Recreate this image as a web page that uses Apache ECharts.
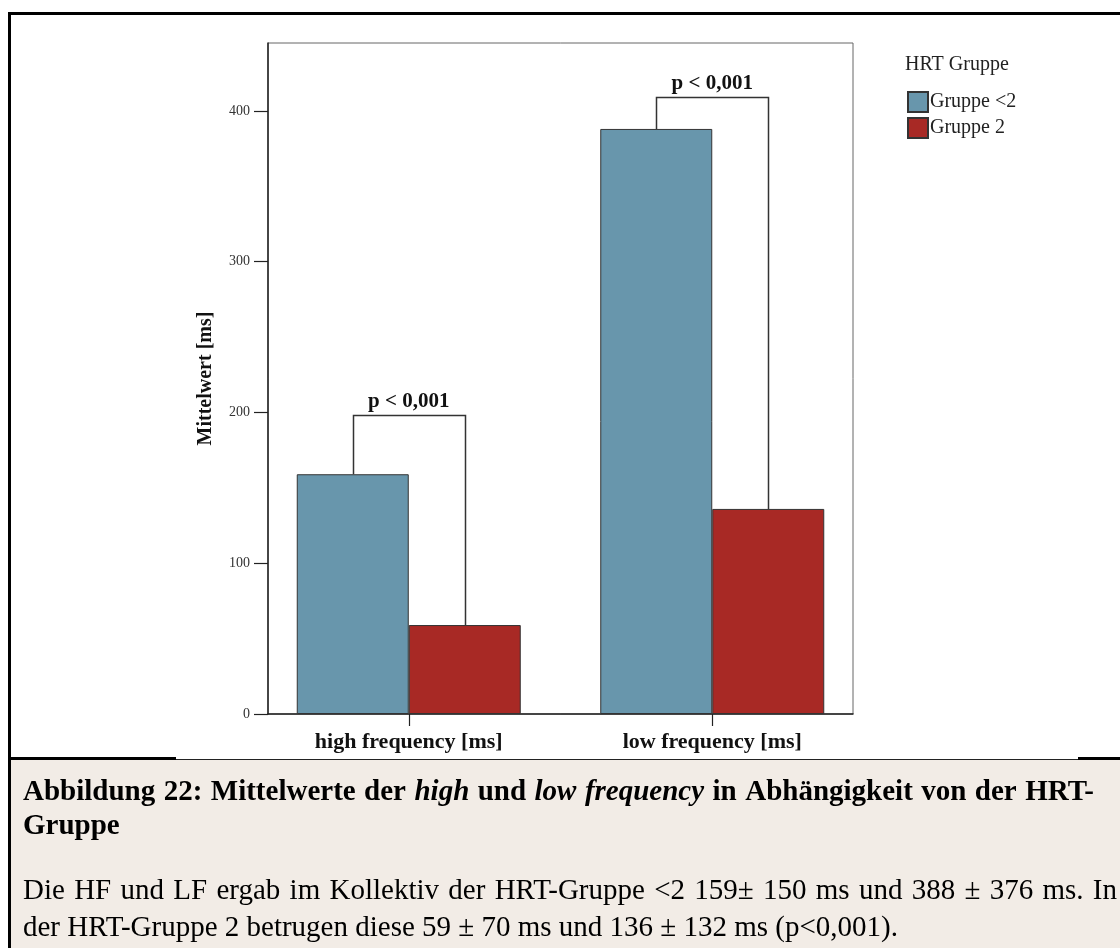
<!DOCTYPE html>
<html><head><meta charset="utf-8">
<script src="https://cdn.jsdelivr.net/npm/echarts@6/dist/echarts.min.js"></script>
<style>html,body{margin:0;padding:0;background:#fff}#c{width:1120px;height:948px}</style>
</head><body><div id="c"></div>
<script>
const categories = ['high frequency [ms]', 'low frequency [ms]'];
const seriesNames = ['Gruppe <2', 'Gruppe 2'];
const gruppeLt2 = [159, 388];
const gruppe2 = [59, 136];
const bracketTop = [198, 409];
const pLabels = ['p < 0,001', 'p < 0,001'];
const yMin = 0, yMax = 445, yInterval = 100;
// caption: segments [text, italic?]
const captionTitle1 = [['Abbildung 22: Mittelwerte der', false], ['high', true], ['und', false], ['low frequency', true], ['in Abhängigkeit von der HRT-', false]];
const captionTitle2 = 'Gruppe';
const captionText1 = 'Die HF und LF ergab im Kollektiv der HRT-Gruppe <2 159± 150 ms und 388 ± 376 ms. In';
const captionText2 = 'der HRT-Gruppe 2 betrugen diese 59 ± 70 ms und 136 ± 132 ms (p<0,001).';

const SERIF = '"Liberation Serif", "Times New Roman", serif';
const BAR_W = 112;
const BLUE = '#6896ac', RED = '#a82925';
const CAP_SIZE = 29;

const mctx = document.createElement('canvas').getContext('2d');
function measure(font, text) { mctx.font = font; return mctx.measureText(text).width; }

// build word-positioned text elements for one caption line (justified if x1 given)
function captionLine(segments, x0, x1, y) {
  const words = [];
  segments.forEach(([txt, font]) => {
    txt.split(' ').filter(w => w.length).forEach(w => words.push({w, font}));
  });
  const widths = words.map(o => measure(o.font, o.w));
  const total = widths.reduce((a, b) => a + b, 0);
  const gap = x1 != null ? (x1 - x0 - total) / (words.length - 1) : measure(words[0].font, ' ');
  let x = x0;
  return words.map((o, i) => {
    const el = {type: 'text', x: x, y: y, style: {text: o.w, font: o.font, fill: '#000', verticalAlign: 'middle'}};
    x += widths[i] + gap;
    return el;
  });
}

const fB = 'bold ' + CAP_SIZE + 'px ' + SERIF;
const fBI = 'italic bold ' + CAP_SIZE + 'px ' + SERIF;
const fR = CAP_SIZE + 'px ' + SERIF;

const captionEls = [].concat(
  captionLine(captionTitle1.map(([t, it]) => [t, it ? fBI : fB]), 23, 1094, 793),
  captionLine([[captionTitle2, fB]], 23, null, 827),
  captionLine([[captionText1, fR]], 23, 1117, 891),
  captionLine([[captionText2, fR]], 23, null, 928)
);

const chart = echarts.init(document.getElementById('c'), null, {renderer: 'canvas'});

const bracketData = categories.map((c, i) => [i, gruppeLt2[i], gruppe2[i], bracketTop[i]]);

const option = {
  animation: false,
  backgroundColor: '#fff',
  title: {
    text: 'HRT Gruppe', left: 900, top: 50,
    textStyle: {fontFamily: SERIF, fontSize: 20, fontWeight: 'normal', color: '#222'}
  },
  legend: {
    data: seriesNames, orient: 'vertical', left: 902, top: 86,
    itemWidth: 20, itemHeight: 20, itemGap: 4, icon: 'rect',
    textStyle: {fontFamily: SERIF, fontSize: 20, color: '#222', padding: [0, 0, 0, -3]}
  },
  grid: [
    {left: 257, right: 256, top: 43, bottom: 234, containLabel: false},
    {left: 268, right: 267, top: 43, bottom: 234, containLabel: false, show: true,
     borderColor: '#666', borderWidth: 1, backgroundColor: 'transparent'}
  ],
  xAxis: [
    {type: 'category', gridIndex: 0, data: categories,
     axisLine: {show: false},
     axisTick: {show: true, alignWithLabel: true, length: 12, lineStyle: {color: '#222', width: 1.2}},
     axisLabel: {margin: 17, fontFamily: SERIF, fontSize: 22, fontWeight: 'bold', color: '#111'}},
    {type: 'value', gridIndex: 1, min: 0, max: 1, show: true,
     axisLine: {show: true, lineStyle: {color: '#222', width: 1.5}},
     axisTick: {show: false}, axisLabel: {show: false}, splitLine: {show: false}}
  ],
  yAxis: [
    {type: 'value', gridIndex: 0, min: yMin, max: yMax, interval: yInterval, show: false},
    {type: 'value', gridIndex: 1, min: yMin, max: yMax, interval: yInterval,
     name: 'Mittelwert [ms]', nameLocation: 'middle', nameGap: 52, nameRotate: 90,
     nameTextStyle: {fontFamily: SERIF, fontSize: 20, fontWeight: 'bold', color: '#111'},
     axisLine: {show: true, lineStyle: {color: '#222', width: 1.5}},
     axisTick: {show: true, length: 14, lineStyle: {color: '#222', width: 1.2}},
     axisLabel: {margin: 18, fontFamily: SERIF, fontSize: 14, color: '#333',
       showMaxLabel: false},
     splitLine: {show: false}}
  ],
  series: [
    {name: seriesNames[0], type: 'bar', xAxisIndex: 0, yAxisIndex: 0, data: gruppeLt2,
     barWidth: BAR_W, barGap: '0%',
     itemStyle: {color: BLUE, borderColor: '#333', borderWidth: 1}},
    {name: seriesNames[1], type: 'bar', xAxisIndex: 0, yAxisIndex: 0, data: gruppe2,
     barWidth: BAR_W, barGap: '0%',
     itemStyle: {color: RED, borderColor: '#333', borderWidth: 1}},
    {type: 'custom', xAxisIndex: 0, yAxisIndex: 0, data: bracketData, z: 5,
     encode: {x: 0, y: 3},
     renderItem: function (params, api) {
       const ci = api.value(0);
       const top = api.coord([ci, api.value(3)]);
       const l = api.coord([ci, api.value(1)]);
       const r = api.coord([ci, api.value(2)]);
       const xL = Math.round(top[0] - BAR_W / 2) + 0.5, xR = Math.round(top[0] + BAR_W / 2) + 0.5;
       const yT = Math.round(top[1]) + 0.5;
       return {type: 'group', children: [
         {type: 'polyline', shape: {points: [[xL, l[1]], [xL, yT], [xR, yT], [xR, r[1]]]},
          style: {stroke: '#333', lineWidth: 1.5, fill: null}},
         {type: 'text', style: {text: pLabels[params.dataIndex], x: top[0], y: yT - 3,
          align: 'center', verticalAlign: 'bottom',
          font: 'bold 21px ' + SERIF, fill: '#111'}}
       ]};
     }}
  ],
  graphic: [
    {type: 'rect', shape: {x: 10, y: 760, width: 1110, height: 188}, style: {fill: '#f2ece6'}, z: -10},
    {type: 'line', shape: {x1: 8, y1: 13.5, x2: 1120, y2: 13.5}, style: {stroke: '#000', lineWidth: 3}},
    {type: 'line', shape: {x1: 9.5, y1: 12, x2: 9.5, y2: 948}, style: {stroke: '#000', lineWidth: 3}},
    {type: 'line', shape: {x1: 8, y1: 758.5, x2: 176, y2: 758.5}, style: {stroke: '#000', lineWidth: 3}},
    {type: 'line', shape: {x1: 176, y1: 759.5, x2: 1078, y2: 759.5}, style: {stroke: '#222', lineWidth: 1}},
    {type: 'line', shape: {x1: 1078, y1: 758.5, x2: 1120, y2: 758.5}, style: {stroke: '#000', lineWidth: 3}}
  ].concat(captionEls)
};
chart.setOption(option);
</script></body></html>
